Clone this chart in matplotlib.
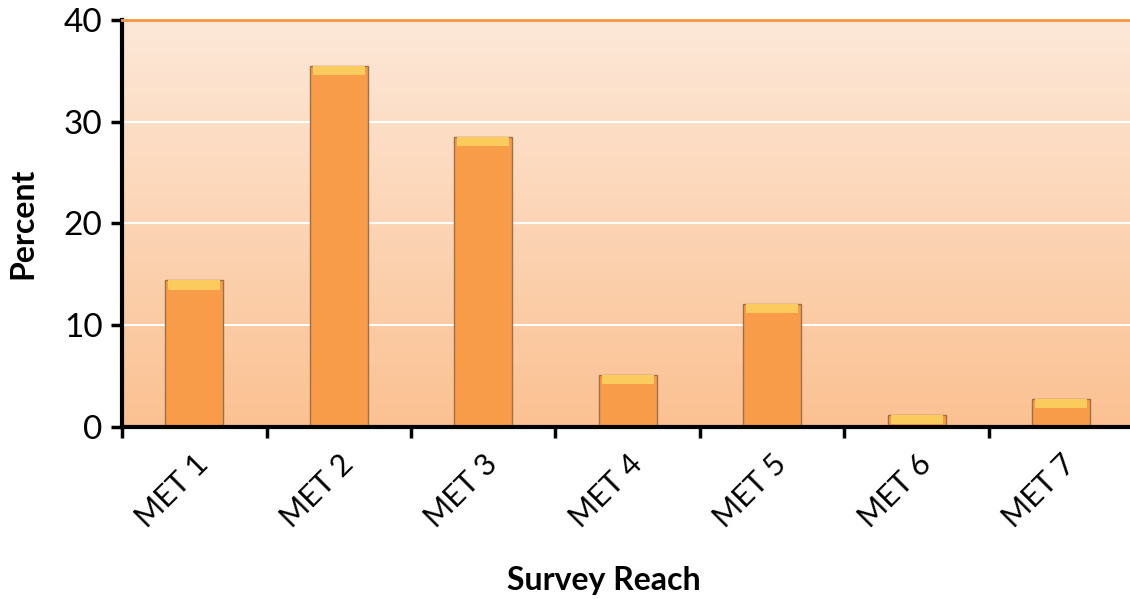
import numpy as np
import matplotlib
matplotlib.use("Agg")
import matplotlib.pyplot as plt
from matplotlib.colors import LinearSegmentedColormap

# Dados
categories = ["MET 1", "MET 2", "MET 3", "MET 4", "MET 5", "MET 6", "MET 7"]
percent = [14.4, 35.5, 28.5, 5.1, 12.1, 1.2, 2.8]
yticks = [0, 10, 20, 30, 40]

plt.rcParams["font.family"] = ["Lato", "DejaVu Sans"]

fig = plt.figure(figsize=(11.3, 5.99), dpi=100)
ax = fig.add_axes([0.108, 0.287, 0.895, 0.68])

x = np.arange(len(categories))

# fundo em degradê
bg = LinearSegmentedColormap.from_list("bg", ["#FBC192", "#FDE8D8"])
ax.imshow(np.linspace(0, 1, 256).reshape(-1, 1), cmap=bg, aspect="auto",
          extent=[-0.5, len(categories) - 0.5, 0, 40], origin="lower", zorder=0)

for y in yticks[1:-1]:
    ax.axhline(y, color="white", lw=1.5, zorder=1)

bars = ax.bar(x, percent, width=0.4, color="#F99C4A", edgecolor="#9C7048",
              linewidth=1.0, zorder=2)
# brilho no topo das barras
top = [min(v, 0.9) for v in percent]
ax.bar(x, top, width=0.36, bottom=[v - t for v, t in zip(percent, top)],
       color="#FBCB5E", linewidth=0, zorder=3)

ax.set_xlim(-0.5, len(categories) - 0.5)
ax.set_ylim(0, 40)
ax.set_yticks(yticks)
ax.set_yticklabels([str(v) for v in yticks], fontsize=24)
ax.set_xticks(np.arange(len(categories) + 1) - 0.5)
ax.set_xticklabels([])
ax.set_xticks(x, minor=True)
ax.set_xticklabels(categories, minor=True, rotation=45, ha="right",
                   rotation_mode="anchor", fontsize=22)
ax.tick_params(axis="x", which="minor", length=0, pad=16)
ax.tick_params(axis="both", which="major", direction="out", length=8, width=2.5)
ax.tick_params(axis="y", pad=6)

for s in ["left", "bottom"]:
    ax.spines[s].set_linewidth(3)
ax.spines["top"].set_color("#F79646")
ax.spines["top"].set_linewidth(2)
ax.spines["right"].set_visible(False)

ax.set_ylabel("Percent", fontsize=23, fontweight="bold")
ax.set_xlabel("Survey Reach", fontsize=23, fontweight="bold")
ax.yaxis.set_label_coords(-0.084, 0.5)
ax.xaxis.set_label_coords(0.476, -0.34)

fig.savefig("out.png", dpi=100)
